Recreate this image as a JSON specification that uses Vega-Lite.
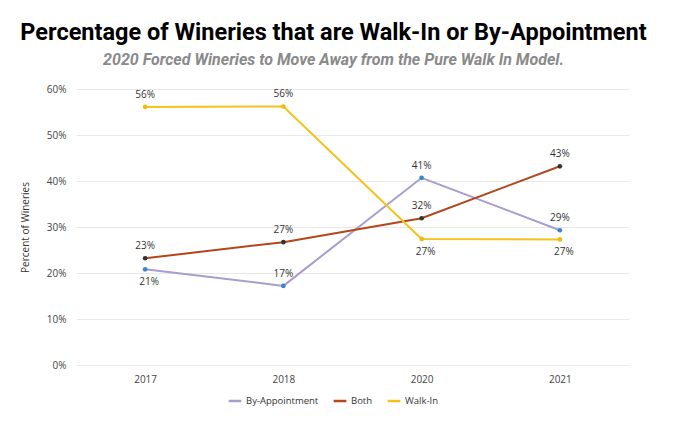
{
  "$schema": "https://vega.github.io/schema/vega-lite/v6.json",
  "width": 553,
  "height": 276,
  "padding": {"left": 20, "top": 20, "right": 50, "bottom": 10},
  "background": "white",
  "title": {
    "text": "Percentage of Wineries that are Walk-In or By-Appointment",
    "subtitle": "2020 Forced Wineries to Move Away from the Pure Walk In Model.",
    "anchor": "middle",
    "frame": "group",
    "dx": -19,
    "font": "Roboto",
    "fontSize": 23.5,
    "fontWeight": "bold",
    "color": "#000000",
    "subtitleFont": "Roboto",
    "subtitleFontSize": 16,
    "subtitleFontWeight": "bold",
    "subtitleFontStyle": "italic",
    "subtitleColor": "#8a8a8a",
    "subtitlePadding": 8,
    "offset": 16
  },
  "config": {
    "view": {"stroke": null},
    "font": "Open Sans",
    "axis": {
      "labelFont": "Open Sans",
      "labelFontSize": 10,
      "labelColor": "#444444",
      "titleFont": "Open Sans",
      "titleFontSize": 10,
      "titleFontWeight": "normal",
      "titleColor": "#333333",
      "domain": false,
      "ticks": false,
      "gridColor": "#e8e8e8"
    },
    "legend": {
      "labelFont": "Open Sans",
      "labelFontSize": 9.5,
      "labelColor": "#333333"
    }
  },
  "data": {
    "values": [
      {"year": "2017", "series": "By-Appointment", "value": 0.208},
      {"year": "2018", "series": "By-Appointment", "value": 0.172},
      {"year": "2020", "series": "By-Appointment", "value": 0.407},
      {"year": "2021", "series": "By-Appointment", "value": 0.293},
      {"year": "2017", "series": "Both", "value": 0.232},
      {"year": "2018", "series": "Both", "value": 0.267},
      {"year": "2020", "series": "Both", "value": 0.319},
      {"year": "2021", "series": "Both", "value": 0.432},
      {"year": "2017", "series": "Walk-In", "value": 0.561},
      {"year": "2018", "series": "Walk-In", "value": 0.562},
      {"year": "2020", "series": "Walk-In", "value": 0.274},
      {"year": "2021", "series": "Walk-In", "value": 0.273}
    ]
  },
  "encoding": {
    "x": {
      "field": "year",
      "type": "ordinal",
      "scale": {"type": "point", "padding": 0.5},
      "axis": {"title": null, "labelAngle": 0, "labelPadding": 9, "grid": false}
    },
    "y": {
      "field": "value",
      "type": "quantitative",
      "scale": {"domain": [0, 0.6], "nice": false},
      "axis": {"title": "Percent of Wineries", "format": ".0%", "values": [0, 0.1, 0.2, 0.3, 0.4, 0.5, 0.6], "labelOverlap": false, "labelPadding": 10, "titlePadding": 16}
    }
  },
  "layer": [
    {
      "mark": {"type": "line", "strokeWidth": 2},
      "encoding": {
        "color": {
          "field": "series",
          "type": "nominal",
          "scale": {"domain": ["By-Appointment", "Both", "Walk-In"], "range": ["#a99ccf", "#b4461c", "#f4c21b"]},
          "legend": {"title": null, "orient": "none", "legendX": 151, "legendY": 304, "direction": "horizontal", "symbolType": "stroke", "symbolStrokeWidth": 2.5, "symbolSize": 160, "columnPadding": 9, "labelOffset": 3}
        }
      }
    },
    {
      "mark": {"type": "point", "filled": true, "size": 22, "opacity": 1},
      "encoding": {
        "color": {
          "field": "series",
          "type": "nominal",
          "scale": {"domain": ["By-Appointment", "Both", "Walk-In"], "range": ["#3b86cf", "#333333", "#f2b90e"]},
          "legend": null
        }
      }
    },
    {
      "transform": [{"filter": "!((datum.series == 'By-Appointment' && datum.year == '2017') || (datum.series == 'Walk-In' && (datum.year == '2020' || datum.year == '2021')))"}],
      "mark": {"type": "text", "dy": -12, "fontSize": 10, "font": "Open Sans", "color": "#333333"},
      "encoding": {"text": {"field": "value", "type": "quantitative", "format": ".0%"}}
    },
    {
      "transform": [{"filter": "(datum.series == 'By-Appointment' && datum.year == '2017') || (datum.series == 'Walk-In' && (datum.year == '2020' || datum.year == '2021'))"}],
      "mark": {"type": "text", "dy": 13, "dx": 4, "fontSize": 10, "font": "Open Sans", "color": "#333333"},
      "encoding": {"text": {"field": "value", "type": "quantitative", "format": ".0%"}}
    }
  ],
  "resolve": {"scale": {"color": "independent"}}
}
